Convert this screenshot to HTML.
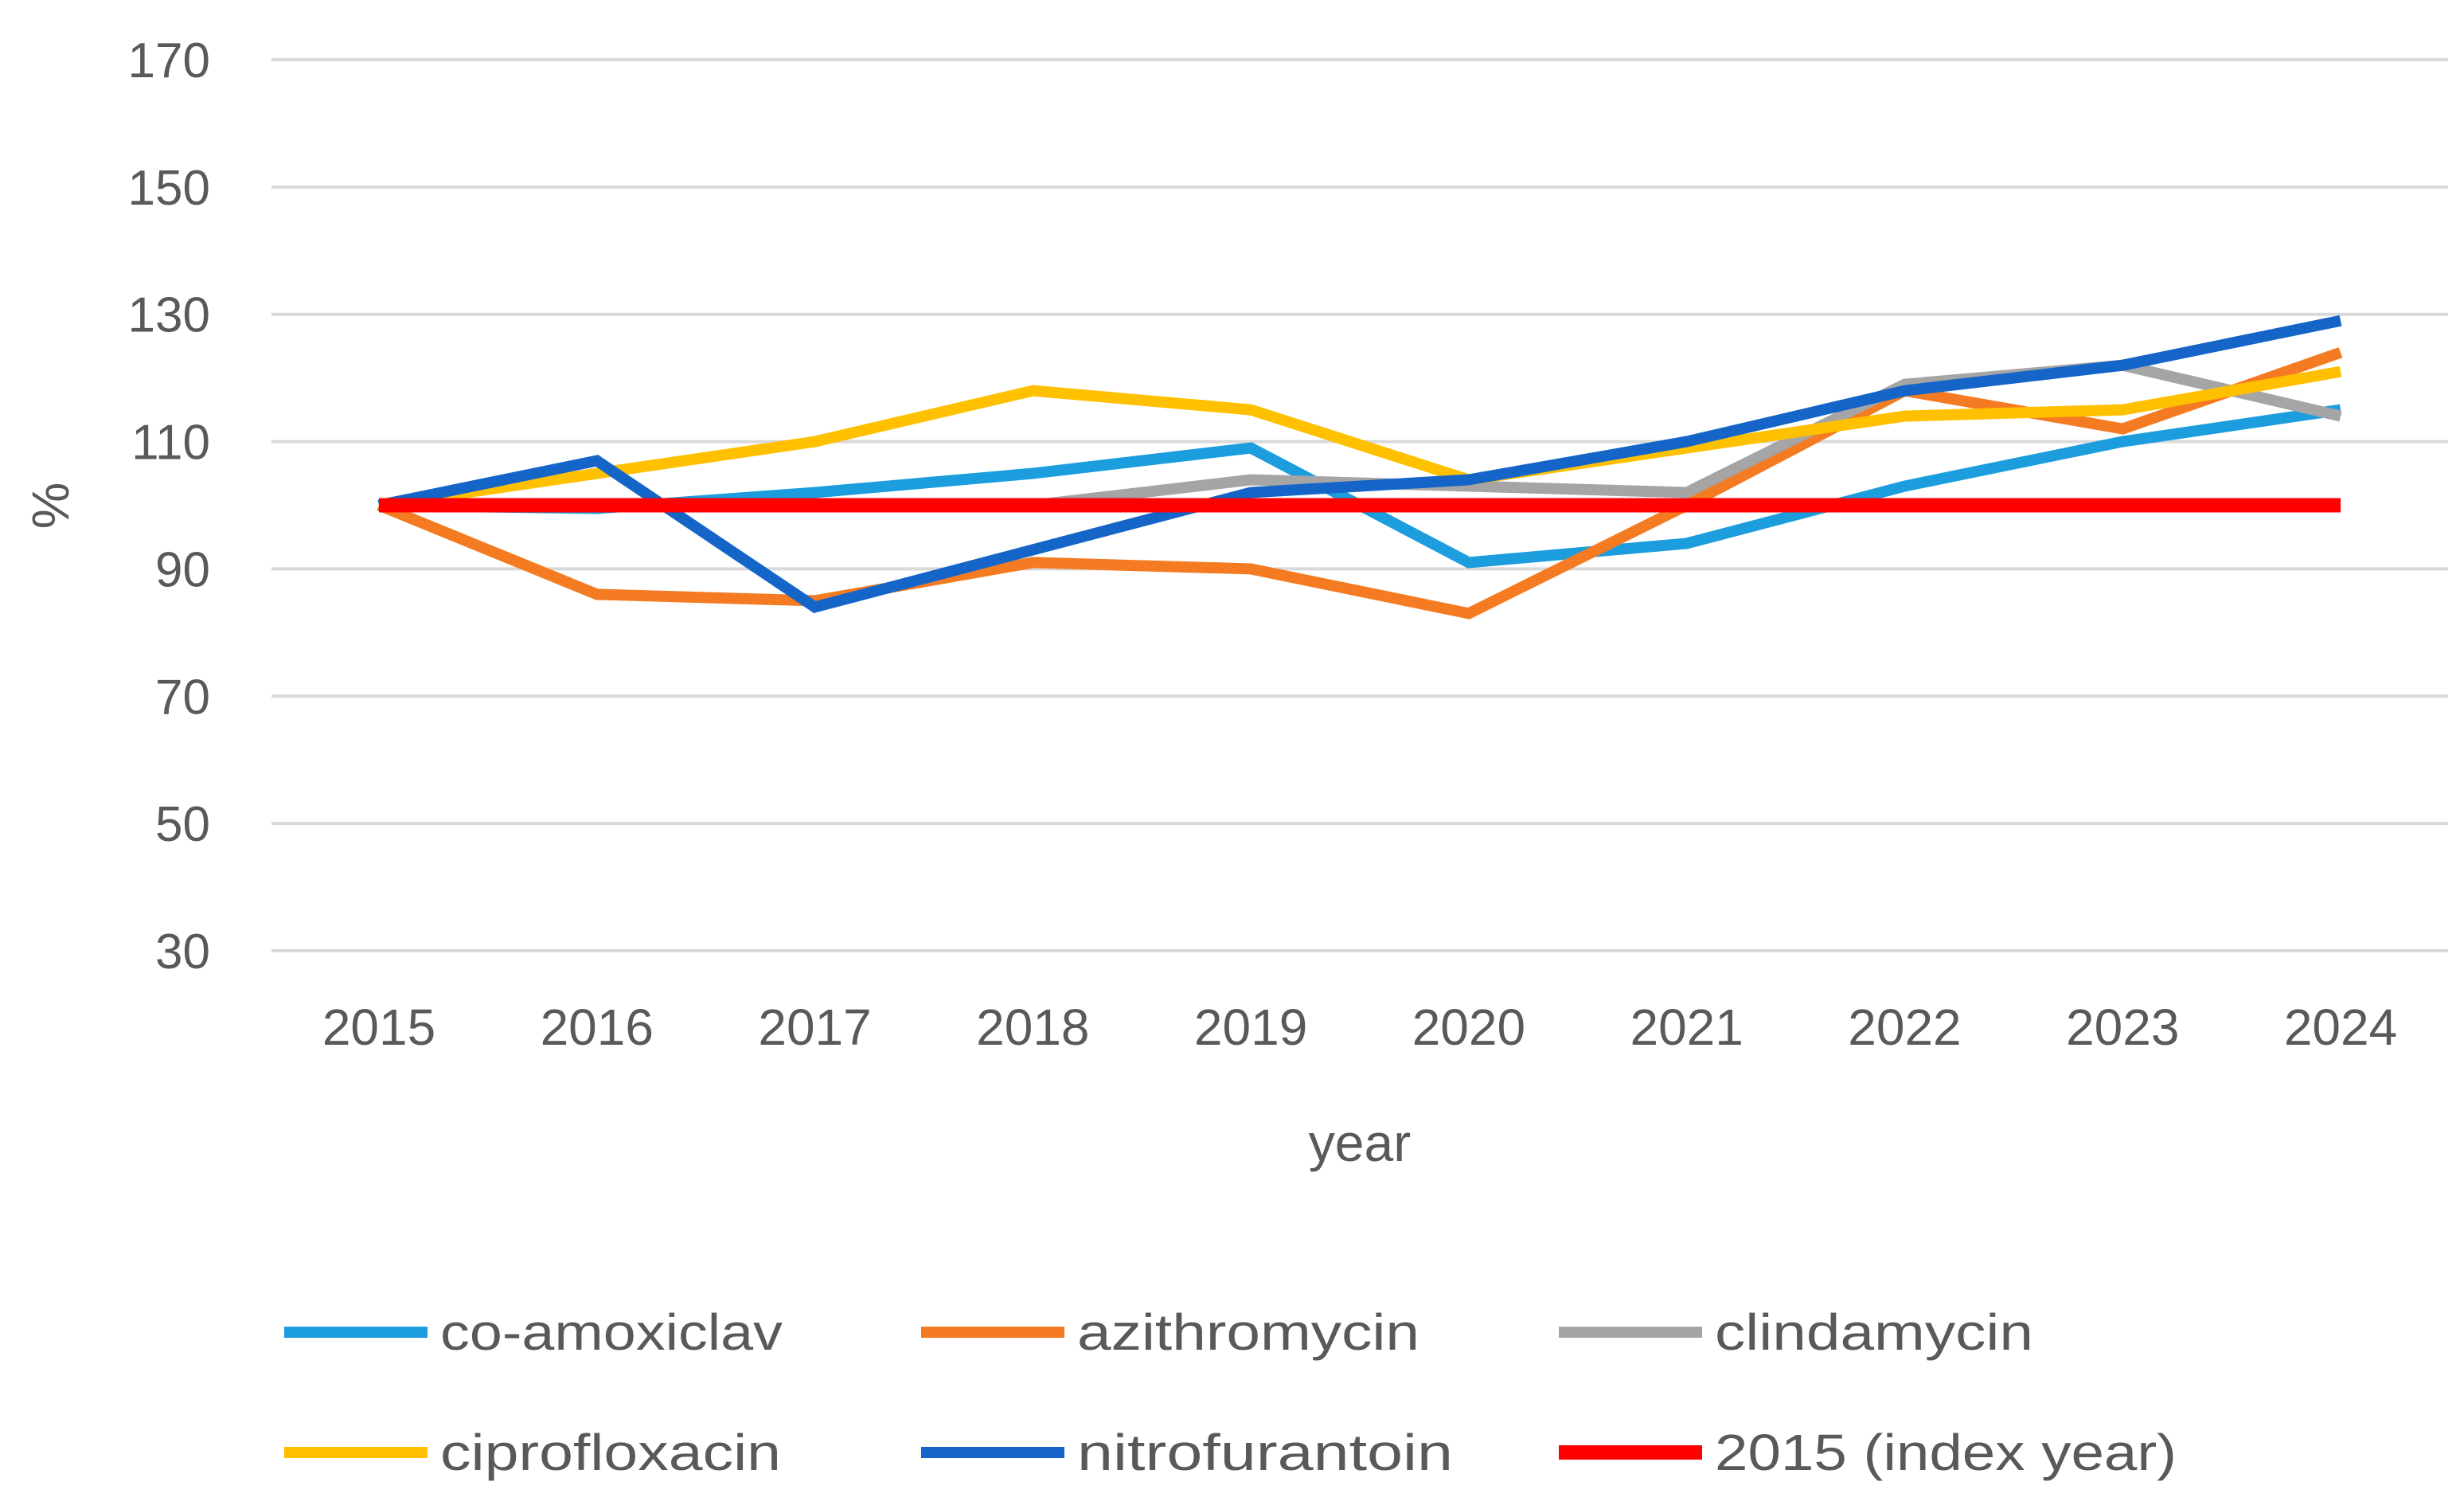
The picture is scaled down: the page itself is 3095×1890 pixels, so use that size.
<!DOCTYPE html>
<html><head><meta charset="utf-8"><style>
html,body{margin:0;padding:0;background:#fff;}
svg{display:block;font-family:"Liberation Sans",sans-serif;}
</style></head><body>
<svg id="chart" width="3095" height="1890" viewBox="0 0 3095 1890">
<g id="grid"></g>
<g id="yticks"></g>
<g id="xticks"></g>
<g id="series"></g>
<text x="1708" y="1458" font-size="66" fill="#595959" text-anchor="middle">year</text>
<text transform="translate(86,635) rotate(-90)" font-size="66" fill="#595959" text-anchor="middle">%</text>
<g id="legend"></g>
</svg>
<script>
const years = [2015,2016,2017,2018,2019,2020,2021,2022,2023,2024];
const yTicks = [30,50,70,90,110,130,150,170];
const coAmoxiclav = [100,99.5,102,105,109,91,94,103,110,115];
const azithromycin = [100,86,85,91,90,83,100,118,112,124];
const clindamycin = [100,100,100,100,104,103,102,119,122,114];
const ciprofloxacin = [100,105,110,118,115,104,109,114,115,121];
const nitrofurantoin = [100,107,84,93,102,104,110,118,122,129];
const indexYear = [100,100,100,100,100,100,100,100,100,100];
const seriesNames = ["co-amoxiclav","azithromycin","clindamycin","ciprofloxacin","nitrofurantoin","2015 (index year)"];

const NS="http://www.w3.org/2000/svg";
const colors=["#1B9DDE","#F47B22","#A5A5A5","#FFC000","#1565C8","#FF0000"];
const widths=[14,14,14,14,14,18];
const yMin=30,yMax=170,yTop=75,yBot=1194;
const xL=341,xR=3075,x0=476,x1=2940;
function ys(v){return yBot-(v-yMin)/(yMax-yMin)*(yBot-yTop);}
function xs(i){return x0+i*(x1-x0)/(years.length-1);}
function mk(tag,attrs,parent){const e=document.createElementNS(NS,tag);for(const k in attrs)e.setAttribute(k,attrs[k]);parent.appendChild(e);return e;}
const grid=document.getElementById('grid'),yt=document.getElementById('yticks'),xt=document.getElementById('xticks'),sg=document.getElementById('series'),lg=document.getElementById('legend');
yTicks.forEach(v=>{
  const l=mk('line',{x1:xL,x2:xR,y1:ys(v),y2:ys(v),stroke:'#D9D9D9','stroke-width':4},grid);
  
  
  const t=mk('text',{x:264,y:ys(v)+22,'font-size':62,fill:'#595959','text-anchor':'end'},yt);
  t.textContent=v;
  
  
});
years.forEach((y,i)=>{
  const t=mk('text',{x:xs(i),y:1312,'font-size':64,fill:'#595959','text-anchor':'middle'},xt);
  t.textContent=y;
  
  
});
const data=[coAmoxiclav,azithromycin,clindamycin,ciprofloxacin,nitrofurantoin,indexYear];
data.forEach((arr,s)=>{
  const pts=arr.map((v,i)=>xs(i)+','+ys(v)).join(' ');
  const p=mk('polyline',{points:pts,fill:'none',stroke:colors[s],'stroke-width':widths[s],'stroke-linejoin':'miter','stroke-linecap':'butt'},sg);
  
  
});
const legX=[357,1157,1958],legY=[1673,1824],txtLen=[430,430,400,428,472,580];
seriesNames.forEach((n,s)=>{
  const col=s%3,row=Math.floor(s/3);
  const g=mk('g',{},lg);
  
  
  mk('line',{x1:legX[col],x2:legX[col]+180,y1:legY[row],y2:legY[row],stroke:colors[s],'stroke-width':widths[s]},g);
  const t=mk('text',{x:legX[col]+196,y:legY[row]+22,'font-size':64,fill:'#595959',textLength:txtLen[s],lengthAdjust:'spacingAndGlyphs'},g);
  t.textContent=n;
});
</script>
</body></html>
